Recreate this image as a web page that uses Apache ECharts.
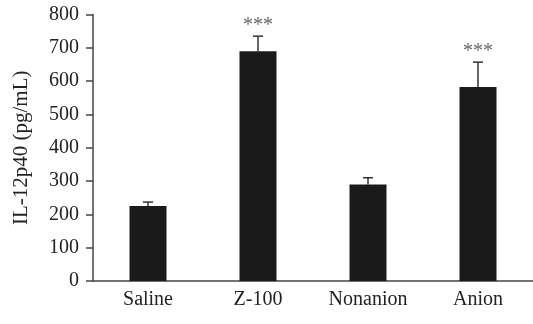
<!DOCTYPE html>
<html>
<head>
<meta charset="utf-8">
<script src="https://cdn.jsdelivr.net/npm/echarts@6/dist/echarts.min.js"></script>
<style>html,body{margin:0;padding:0;background:#fff}#c{width:533px;height:324px}</style>
</head>
<body>
<div id="c"></div>
<script>
const categories = ['Saline', 'Z-100', 'Nonanion', 'Anion'];
const means = [225, 690, 290, 582];
const errors = [12, 45, 20, 75];
const significance = ['', '***', '', '***'];
const yTicks = {min: 0, max: 800, interval: 100};

const FONT = 'Liberation Serif';
const chart = echarts.init(document.getElementById('c'), null, {renderer: 'canvas'});
chart.setOption({
  animation: false,
  grid: {left: 93, right: -10, top: 14.5, bottom: 43, containLabel: false},
  xAxis: {
    type: 'category',
    data: categories,
    axisLine: {lineStyle: {color: '#444', width: 1.5}},
    axisTick: {alignWithLabel: true, length: 7, lineStyle: {color: '#444', width: 1.5}},
    axisLabel: {color: '#222', fontFamily: FONT, fontSize: 20, margin: 9}
  },
  yAxis: {
    type: 'value',
    min: yTicks.min, max: yTicks.max, interval: yTicks.interval,
    name: 'IL-12p40 (pg/mL)',
    nameLocation: 'middle',
    nameGap: 61,
    nameTextStyle: {color: '#222', fontFamily: FONT, fontSize: 21},
    axisLine: {show: true, lineStyle: {color: '#444', width: 1.5}},
    axisTick: {show: true, length: 7, lineStyle: {color: '#444', width: 1.5}},
    axisLabel: {color: '#222', fontFamily: FONT, fontSize: 20, margin: 14},
    splitLine: {show: false}
  },
  series: [
    {
      type: 'bar',
      data: means,
      barWidth: 37,
      itemStyle: {color: '#1a1a1a'},
      z: 2
    },
    {
      type: 'custom',
      data: means.map((m, i) => [i, m, errors[i]]),
      renderItem: function (params, api) {
        const i = api.value(0);
        const base = api.coord([i, api.value(1)]);
        const top = api.coord([i, api.value(1) + api.value(2)]);
        const half = 5;
        const children = [
          {type: 'line', shape: {x1: base[0], y1: base[1], x2: top[0], y2: top[1]}, style: {stroke: '#333', lineWidth: 1.5}},
          {type: 'line', shape: {x1: top[0] - half, y1: top[1], x2: top[0] + half, y2: top[1]}, style: {stroke: '#333', lineWidth: 1.5}}
        ];
        const sig = significance[i];
        if (sig) {
          children.push({type: 'text', x: top[0], y: top[1] - 10,
            style: {text: sig, fill: '#666', font: '20px "' + FONT + '"', align: 'center', verticalAlign: 'middle'}});
        }
        return {type: 'group', children: children};
      },
      z: 3
    }
  ]
});
</script>
</body>
</html>
